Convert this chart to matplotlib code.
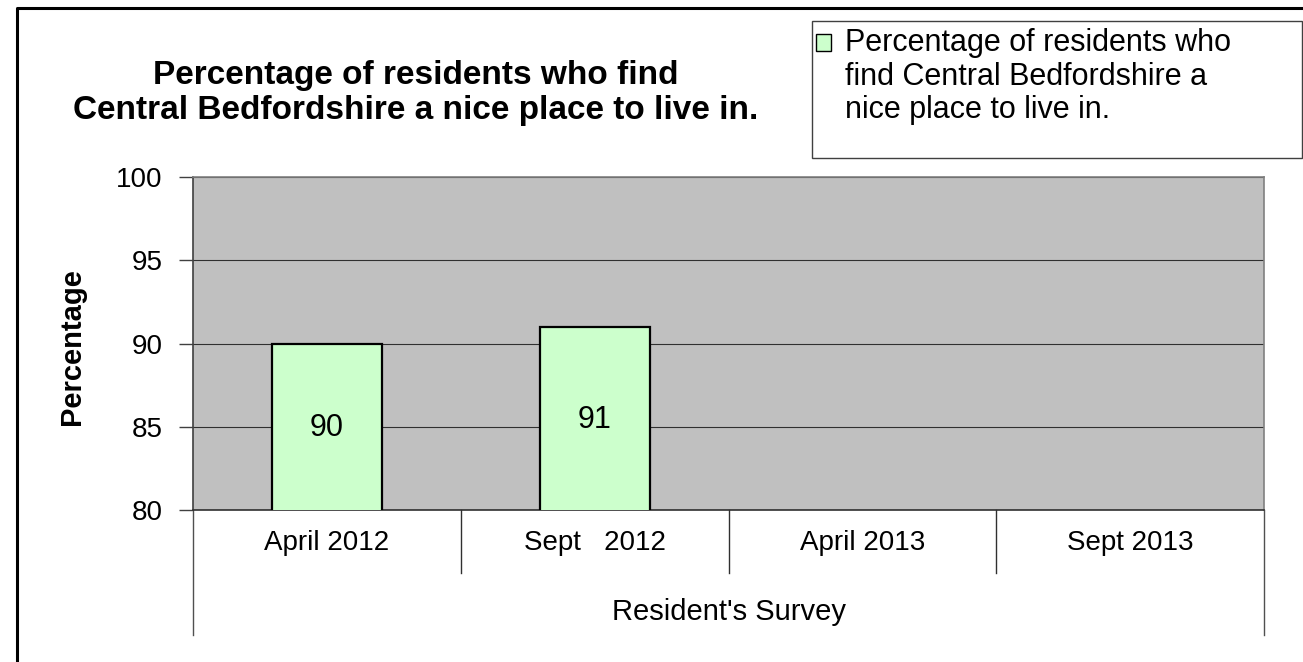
import matplotlib.pyplot as plt
import matplotlib.transforms as mtransforms
from matplotlib.lines import Line2D
from matplotlib.patches import Rectangle
import numpy as np

plt.rcParams['font.family'] = ['Liberation Sans', 'DejaVu Sans']

# data
surveys = ['April 2012', 'Sept   2012', 'April 2013', 'Sept 2013']
percent_nice = [90, 91, np.nan, np.nan]
series_name = 'Percentage of residents who\nfind Central Bedfordshire a\nnice place to live in.'
group_label = "Resident's Survey"
y_ticks = [80, 85, 90, 95, 100]

W, H = 1303, 662
fig = plt.figure(figsize=(W / 100, H / 100), dpi=100)
ax = fig.add_axes([193 / W, 152 / H, 1071 / W, 333 / H])

ax.set_facecolor('#C0C0C0')
x = np.arange(len(surveys))
bars = ax.bar(x, percent_nice, width=0.41, color='#CCFFCC', edgecolor='black',
              linewidth=1.6, zorder=3, label=series_name)

# value labels in the middle of each bar
for xi, v in zip(x, percent_nice):
    if not np.isnan(v):
        ax.text(xi, (80 + v) / 2 - 0.1, f'{v:g}', ha='center', va='center',
                fontsize=22, zorder=4)

ax.set_xlim(-0.5, len(surveys) - 0.5)
ax.set_ylim(80, 100)
ax.set_yticks(y_ticks)
ax.tick_params(axis='y', labelsize=20, length=10, width=1, color='#404040', pad=12)
ax.set_xticks([])
ax.yaxis.grid(True, color='#303030', linewidth=0.8)
ax.set_axisbelow(True)
for side in ['left', 'right', 'top']:
    ax.spines[side].set_color('#808080')
    ax.spines[side].set_linewidth(1.2)
ax.spines['left'].set_color('#404040')
ax.spines['bottom'].set_color('#303030')
ax.spines['bottom'].set_linewidth(1.2)

fig.text(72 / W, 1 - 347 / H, 'Percentage', rotation=90, ha='center', va='center',
         fontsize=21, fontweight='bold')

# category axis lines below the plot
trans = mtransforms.blended_transform_factory(ax.transData, ax.transAxes)
for b in np.arange(0.5, len(surveys) - 1, 1.0):
    ax.add_line(Line2D([b, b], [0, -63 / 333], transform=trans, color='#303030',
                       linewidth=1, clip_on=False))
for b in [-0.5, len(surveys) - 0.5]:
    ax.add_line(Line2D([b, b], [0, -125 / 333], transform=trans, color='#505050',
                       linewidth=1, clip_on=False))
for xi, lab in zip(x, surveys):
    ax.text(xi, -33 / 333, lab, transform=trans, ha='center', va='center', fontsize=20)
ax.text(0.5, -102 / 333, group_label, transform=ax.transAxes, ha='center',
        va='center', fontsize=21)

# title
fig.text(416 / W, 1 - 93 / H,
         'Percentage of residents who find\nCentral Bedfordshire a nice place to live in.',
         ha='center', va='center', fontsize=24, fontweight='bold', linespacing=1.13)

# legend: box drawn separately, entries from the bar container
fig.add_artist(Rectangle((812 / W, 1 - 158 / H), 490 / W, 137 / H,
                         transform=fig.transFigure, facecolor='white',
                         edgecolor='#404040', linewidth=1))
leg = fig.legend(handles=[bars], labels=[series_name], loc='upper left',
                 bbox_to_anchor=(816 / W, 1 - 28 / H), fontsize=22,
                 frameon=False, handlelength=0.5, handleheight=0.5,
                 handletextpad=0.45, borderpad=0, borderaxespad=0)
for t in leg.get_texts():
    t.set_linespacing(1.16)
for h in leg.legend_handles:
    h.set_linewidth(1)
    h.set_y(h.get_y() + 25)

# outer frame (top and left edges visible)
fig.add_artist(Line2D([17 / W, 17 / W, 1.0], [0.0, 1 - 8 / H, 1 - 8 / H],
                      transform=fig.transFigure, color='black', linewidth=2.2))

fig.savefig('out.png', dpi=100)
